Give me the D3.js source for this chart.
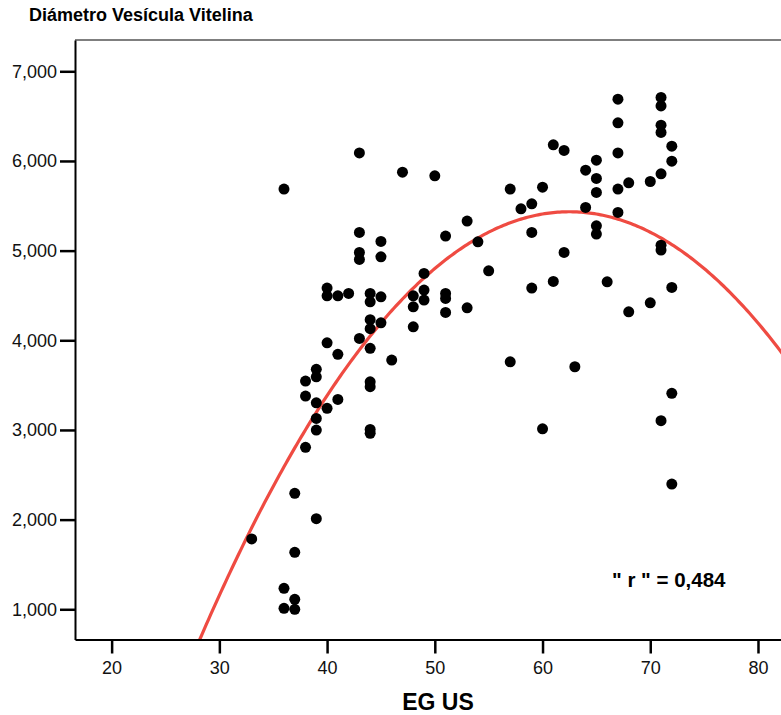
<!DOCTYPE html>
<html>
<head>
<meta charset="utf-8">
<script src="https://cdn.jsdelivr.net/npm/d3@7"></script>
<style>
  body { margin: 0; background: #fff; }
  svg { display: block; font-family: Arial, "Liberation Sans", sans-serif; }
</style>
</head>
<body>
<div id="viz"></div>
<script>
// EG US (x) and diámetro (y)
const egUS = [
  33,
  36, 36, 36,
  37, 37, 37, 37,
  38, 38, 38,
  39, 39, 39, 39, 39, 39,
  40, 40, 40, 40,
  41, 41, 41,
  42,
  43, 43, 43, 43, 43,
  44, 44, 44, 44, 44, 44, 44, 44, 44,
  45, 45, 45, 45,
  46, 47,
  48, 48, 48,
  49, 49, 49,
  50,
  51, 51, 51, 51,
  53, 53,
  54, 55,
  57, 57,
  58,
  59, 59, 59,
  60, 60,
  61, 61,
  62, 62,
  63,
  64, 64,
  65, 65, 65, 65, 65,
  66,
  67, 67, 67, 67, 67,
  68, 68,
  70, 70,
  71, 71, 71, 71, 71, 71, 71, 71,
  72, 72, 72, 72, 72
];
const diametro = [
  1784,
  5686, 1234, 1011,
  2293, 1635, 1111, 1000,
  3545, 3378, 2806,
  3676, 3593, 3303, 3129, 2999, 2010,
  4582, 4496, 3972, 3241,
  4496, 3843, 3341,
  4523,
  6090, 5203, 4980, 4902, 4021,
  4523, 4429, 4230, 4130, 3910, 3537, 3482, 3006, 2962,
  5102, 4931, 4485, 4195,
  3779, 5875,
  4496, 4373, 4150,
  4746, 4560, 4448,
  5834,
  5162, 4523, 4467, 4311,
  5329, 4362,
  5098, 4775,
  5686, 3760,
  5466,
  5522, 5203, 4582,
  5708, 3013,
  6180, 4657,
  6117, 4980,
  3705,
  5897, 5482,
  6009, 5805, 5649, 5277, 5184,
  4652,
  6689, 6425, 6090, 5686, 5426,
  5756, 4318,
  5771, 4418,
  6708, 6614, 6399, 6318, 5857, 5061, 5006, 3103,
  6165, 5998, 4590, 3408, 2397
];

// quadratic fit line (b0 + b1*x + b2*x^2)
const fitCoef = [-10387, 506.25, -4.05];
const fitLabel = '" r " = 0,484';

const xTicks = [20, 30, 40, 50, 60, 70, 80];
const yTicks = [1000, 2000, 3000, 4000, 5000, 6000, 7000];

async function drawChart() {
    const dataSet = egUS.map((d, i) => ({ eg: d, diam: diametro[i] }));
    const xAccessor = d => d.eg;
    const yAccessor = d => d.diam;

    const dimensions = {
        width: 781,
        height: 715,
        left: 75,
        top: 40,
        right: 800,
        bottom: 639.5,
    }

    const svg = d3.select('#viz')
        .append('svg')
            .attr('width', dimensions.width)
            .attr('height', dimensions.height);

    const xScale = d3.scaleLinear()
        .domain([16.6, 83.9])
        .range([dimensions.left, dimensions.right]);

    const yScale = d3.scaleLinear()
        .domain([663, 7349])
        .range([dimensions.bottom, dimensions.top]);

    svg.append('defs').append('clipPath')
        .attr('id', 'plot-clip')
        .append('rect')
            .attr('x', dimensions.left)
            .attr('y', dimensions.top)
            .attr('width', dimensions.right - dimensions.left)
            .attr('height', dimensions.bottom - dimensions.top);

    // top border of the plot frame
    svg.append('line')
        .attr('x1', dimensions.left)
        .attr('x2', dimensions.right)
        .attr('y1', dimensions.top)
        .attr('y2', dimensions.top)
        .attr('stroke', '#555')
        .attr('stroke-width', 1.5);

    // fit curve
    const fit = x => fitCoef[0] + fitCoef[1] * x + fitCoef[2] * x * x;
    const curveXs = d3.range(16.6, 84, 0.2);
    const lineGenerator = d3.line()
        .x(x => xScale(x))
        .y(x => yScale(fit(x)));

    const plot = svg.append('g').attr('clip-path', 'url(#plot-clip)');

    plot.append('path')
        .attr('d', lineGenerator(curveXs))
        .attr('fill', 'none')
        .attr('stroke', '#ef4b42')
        .attr('stroke-width', 3.2);

    plot.selectAll('circle')
        .data(dataSet)
        .join('circle')
            .attr('cx', d => xScale(xAccessor(d)))
            .attr('cy', d => yScale(yAccessor(d)))
            .attr('r', 5.5)
            .attr('fill', '#000');

    // axes
    const yAxis = svg.append('g')
        .attr('transform', `translate(${dimensions.left},0)`)
        .call(d3.axisLeft(yScale)
            .tickValues(yTicks)
            .tickSize(15)
            .tickPadding(3)
            .tickSizeOuter(0)
            .tickFormat(d3.format(',')));

    const xAxis = svg.append('g')
        .attr('transform', `translate(0,${dimensions.bottom})`)
        .call(d3.axisBottom(xScale)
            .tickValues(xTicks)
            .tickSize(14)
            .tickPadding(8)
            .tickSizeOuter(0));

    [xAxis, yAxis].forEach(ax => {
        ax.select('.domain').attr('stroke', '#000').attr('stroke-width', 2);
        ax.selectAll('.tick line').attr('stroke', '#000').attr('stroke-width', 2.5);
        ax.selectAll('.tick text')
            .attr('fill', '#111')
            .style('font-size', '18px')
            .style('font-family', 'Arial, "Liberation Sans", sans-serif');
    });

    // labels
    svg.append('text')
        .attr('x', 29)
        .attr('y', 21)
        .style('font-size', '18px')
        .style('font-weight', 'bold')
        .text('Diámetro Vesícula Vitelina');

    svg.append('text')
        .attr('x', 438)
        .attr('y', 710)
        .attr('text-anchor', 'middle')
        .style('font-size', '23px')
        .style('font-weight', 'bold')
        .text('EG US');

    svg.append('text')
        .attr('x', 612)
        .attr('y', 587)
        .style('font-size', '20.5px')
        .style('font-weight', 'bold')
        .text(fitLabel);
}

drawChart();
</script>
</body>
</html>
